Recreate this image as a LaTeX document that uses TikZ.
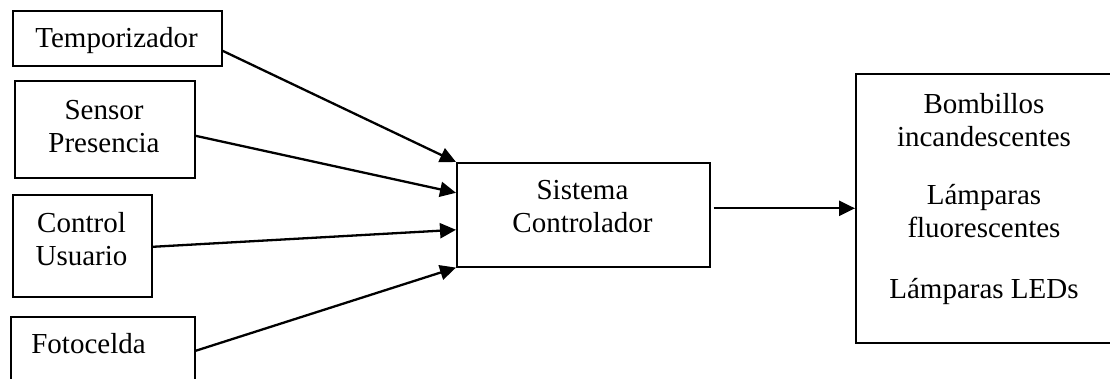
\documentclass[tikz,border=0pt]{standalone}
\usepackage{fontspec}
\setmainfont{Liberation Serif}
\usetikzlibrary{arrows.meta,calc}
% centred stack of lines whose baseline is that of the first line
\newcommand\stacktxt[1]{\begin{tabular}[t]{@{}c@{}}#1\end{tabular}}
\begin{document}
\begin{tikzpicture}[x=1pt,y=-1pt,
  box/.style={draw=black,line width=1.6pt,rectangle,inner sep=0pt,anchor=north west},
  txt/.style={inner sep=0pt,anchor=base,font=\fontsize{29pt}{33pt}\selectfont},
  link/.style={line width=2.3pt,-{Triangle[length=16pt,width=15pt]}}]
\useasboundingbox (0,0) rectangle (1110,378);
\clip (0,0) rectangle (1110,378);

% input blocks
\node[box,minimum width=209pt,minimum height=55pt] (temp) at (12,10) {};
\node[txt] (temptxt) at (116.5,47) {Temporizador};

\node[box,minimum width=180pt,minimum height=97pt] (sens) at (14,80) {};
\node[txt] (senstxt) at (104,119) {\stacktxt{Sensor\\Presencia}};

\node[box,minimum width=139pt,minimum height=102pt] (ctrl) at (12,194) {};
\node[txt] (ctrltxt) at (81.5,232) {\stacktxt{Control\\Usuario}};

\node[box,minimum width=184pt,minimum height=84pt] (foto) at (10,316) {};
\node[txt] (fototxt) at (88.5,353) {Fotocelda};

% controller
\node[box,minimum width=253pt,minimum height=104pt] (sys) at (456,162) {};
\node[txt] (systxt) at (582.5,199) {\stacktxt{Sistema\\Controlador}};

% loads
\node[box,minimum width=258pt,minimum height=269pt] (out) at (855,73) {};
\node[txt] (outtxt) at (984,113) {\stacktxt{Bombillos\\incandescentes\\[25pt]L\'amparas\\fluorescentes\\[28pt]L\'amparas LEDs}};

% connectors
\draw[link] ([yshift=-12.5pt]temp.east) -- (sys.north west);
\draw[link] ([yshift=-6.5pt]sens.east) -- ([yshift=22pt]sys.west);
\draw[link] ([yshift=-1pt]ctrl.east) -- ([yshift=-15pt]sys.west);
\draw[link] ([yshift=8pt]foto.east) -- (sys.south west);
\draw[link] ($(sys.east |- out.west)+(3,0)$) -- (out.west);
\end{tikzpicture}
\end{document}
